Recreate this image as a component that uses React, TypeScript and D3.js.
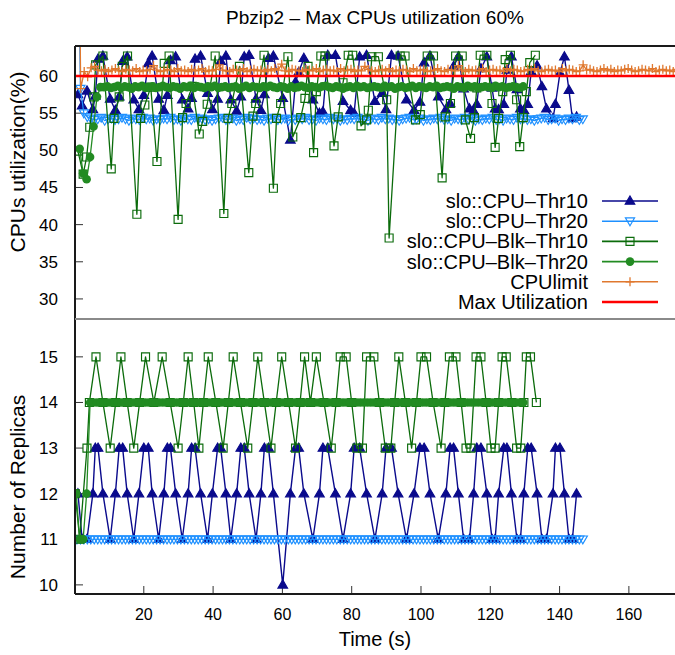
import React from "react";
import * as d3 from "d3";

const chartTitle = "Pbzip2 – Max CPUs utilization 60%";
const xLabel = "Time (s)";
const yTopLabel = "CPUs utilization(%)";
const yBotLabel = "Number of Replicas";
const xTicks = [20, 40, 60, 80, 100, 120, 140, 160];
const cpuTicks = [30, 35, 40, 45, 50, 55, 60];
const repTicks = [10, 11, 12, 13, 14, 15];
const legendNames = [
  "slo::CPU–Thr10",
  "slo::CPU–Thr20",
  "slo::CPU–Blk–Thr10",
  "slo::CPU–Blk–Thr20",
  "CPUlimit",
  "Max Utilization",
];
const maxUtilization = 60;

// slo::CPU-Thr10 : [time, cpu, replicas]
const thr10 = [
  [1.0, 57.5, 12], [2.2, 56.0, 11], [3.6, 58.0, 11], [5.3, 55.5, 12], [6.0, 57.3, 13], [6.8, 62.3, 13],
  [8.2, 62.7, 12], [10.3, 56.9, 11], [11.8, 55.4, 12], [12.9, 57.2, 13], [13.9, 62.0, 13], [15.2, 62.6, 12],
  [17.1, 56.8, 11], [18.6, 55.5, 12], [20.0, 57.4, 13], [21.3, 61.7, 13], [22.4, 62.7, 12], [24.3, 56.9, 11],
  [25.8, 55.4, 12], [26.8, 57.4, 13], [27.7, 62.1, 13], [29.2, 62.6, 12], [31.1, 56.8, 11], [32.8, 55.6, 12],
  [33.8, 57.0, 13], [34.8, 62.3, 13], [36.4, 62.7, 12], [38.4, 57.7, 11], [39.8, 55.5, 12], [41.3, 56.9, 13],
  [42.2, 62.0, 13], [43.7, 62.7, 12], [45.1, 56.8, 11], [46.8, 55.3, 12], [48.0, 57.2, 13], [49.0, 62.6, 13],
  [50.4, 62.8, 12], [52.4, 56.9, 11], [53.8, 55.4, 12], [54.8, 57.5, 13], [56.0, 62.4, 13], [57.4, 62.7, 12],
  [60.1, 57.0, 10], [62.3, 51.4, 12], [63.8, 59.2, 13], [64.7, 60.5, 13], [66.2, 62.4, 12], [68.8, 56.8, 11],
  [70.7, 55.0, 12], [71.7, 55.2, 13], [73.1, 62.8, 13], [75.3, 62.8, 12], [77.5, 56.6, 11], [79.7, 55.4, 12],
  [80.7, 55.0, 13], [82.3, 62.6, 13], [84.3, 62.8, 12], [86.7, 56.6, 11], [88.8, 57.7, 12], [89.9, 55.5, 13],
  [91.5, 62.8, 13], [93.4, 62.7, 12], [95.8, 56.8, 11], [98.0, 55.4, 12], [99.7, 56.5, 13], [100.9, 61.8, 13],
  [102.6, 62.7, 12], [105.0, 57.2, 11], [107.2, 55.5, 12], [108.4, 56.3, 13], [109.4, 61.3, 13], [110.8, 62.6, 12],
  [112.3, 58.3, 11], [114.0, 55.6, 11], [115.2, 55.3, 12], [116.1, 56.2, 13], [117.3, 61.0, 13], [119.0, 62.6, 12],
  [120.5, 58.4, 11], [121.4, 55.6, 11], [122.4, 55.5, 12], [123.9, 56.2, 13], [124.8, 60.8, 13], [126.1, 62.6, 12],
  [127.7, 58.2, 11], [128.7, 55.6, 11], [129.7, 55.4, 12], [130.8, 56.2, 13], [131.8, 60.6, 13], [133.5, 61.4, 12],
  [134.9, 58.6, 11], [136.2, 55.6, 11], [138.1, 54.3, 12], [138.8, 56.2, 13], [140.1, 60.4, 13], [141.4, 62.6, 12],
  [142.7, 58.1, 11], [143.7, 54.3, 11], [144.9, 54.5, 12],
];

// slo::CPU-Thr20 : regular samples
const thr20Start = 0.7;
const thr20Step = 1.0;
const thr20Cpu = [
  90, 58.3, 55.0, 54.5,
  54.3, 54.1, 54.2, 54.4, 54.0, 54.2, 54.3, 54.1, 54.2, 54.4,
  54.2, 54.0, 54.3, 54.2, 54.1, 54.4, 54.2, 54.3, 54.0, 54.2,
  54.1, 54.3, 54.2, 54.4, 54.1, 54.2, 54.0, 54.3, 54.2, 54.1,
  54.4, 54.2, 54.3, 54.1, 54.2, 54.0, 54.2, 54.3, 54.4, 54.1,
  54.2, 54.3, 54.0, 54.2, 54.1, 54.4, 54.2, 54.3, 54.1, 54.2,
  54.0, 54.3, 54.2, 54.4, 54.1, 54.2, 54.3, 54.0, 54.2, 54.1,
  54.3, 54.2, 54.4, 54.1, 54.2, 54.0, 54.3, 54.2, 54.1, 54.4,
  54.2, 54.3, 54.0, 54.2, 54.1, 54.3, 54.2, 54.4, 54.1, 54.2,
  54.0, 54.3, 54.2, 54.1, 54.4, 54.2, 54.3, 54.1, 54.2, 54.0,
  54.2, 54.3, 54.4, 54.1, 54.2, 54.3, 54.0, 54.2, 54.1, 54.3,
  54.2, 54.4, 54.1, 54.2, 54.0, 54.3, 54.2, 54.1, 54.4, 54.2,
  54.3, 54.0, 54.2, 54.1, 54.3, 54.2, 54.4, 54.1, 54.2, 54.0,
  54.3, 54.2, 54.1, 54.4, 54.2, 54.3, 54.1, 54.2, 54.0, 54.2,
  54.3, 54.4, 54.1, 54.2, 54.3, 54.0, 54.2, 54.1, 54.3, 54.2,
  54.4, 54.1, 54.2,
];
const thr20Rep = [
  11, 11, 11, 11, 11, 11, 11, 11, 11, 11, 11, 11, 11, 11, 11, 11, 11, 11, 11, 11, 11,
  11, 11, 11, 11, 11, 11, 11, 11, 11, 11, 11, 11, 11, 11, 11, 11, 11, 11, 11, 11, 11,
  11, 11, 11, 11, 11, 11, 11, 11, 11, 11, 11, 11, 11, 11, 11, 11, 11, 11, 11, 11, 11,
  11, 11, 11, 11, 11, 11, 11, 11, 11, 11, 11, 11, 11, 11, 11, 11, 11, 11, 11, 11, 11,
  11, 11, 11, 11, 11, 11, 11, 11, 11, 11, 11, 11, 11, 11, 11, 11, 11, 11, 11, 11, 11,
  11, 11, 11, 11, 11, 11, 11, 11, 11, 11, 11, 11, 11, 11, 11, 11, 11, 11, 11, 11, 11,
  11, 11, 11, 11, 11, 11, 11, 11, 11, 11, 11, 11, 11, 11, 11, 11, 11, 11, 11, 11, 11,
];

// slo::CPU-Blk-Thr10 : [time, cpu] and [time, replicas]
const blkThr10Cpu = [
  [1.0, 49.9], [2.5, 46.8], [3.5, 49.1], [4.4, 53.1], [5.6, 57.2], [6.1, 61.5], [8.2, 62.7], [10.6, 47.5],
  [11.4, 54.3], [12.9, 57.2], [13.8, 61.3], [15.3, 62.7], [18.0, 41.4], [19.1, 54.3], [20.3, 56.1], [22.0, 58.5],
  [23.8, 48.5], [25.9, 61.7], [27.3, 62.7], [29.9, 40.7], [31.2, 54.4], [32.2, 56.3], [34.0, 58.6], [36.0, 52.2],
  [37.0, 53.9], [38.3, 56.2], [40.6, 62.7], [43.1, 41.5], [44.3, 54.3], [45.4, 56.3], [47.6, 61.3], [50.3, 47.0],
  [51.5, 54.6], [52.3, 56.3], [54.7, 62.8], [57.4, 44.9], [58.3, 54.3], [59.5, 56.3], [61.6, 62.6], [63.0, 51.8],
  [65.3, 54.4], [66.5, 57.0], [67.4, 61.3], [69.0, 49.7], [69.8, 57.9], [71.1, 62.7], [72.3, 62.7], [74.9, 50.6],
  [76.1, 54.5], [77.5, 59.1], [79.0, 62.8], [80.3, 62.8], [82.7, 53.3], [84.3, 54.1], [84.8, 55.4], [85.8, 62.6],
  [87.7, 62.6], [90.1, 56.8], [90.8, 38.2], [94.0, 62.7], [95.4, 62.7], [98.4, 54.1], [99.8, 54.8], [101.8, 62.7],
  [103.6, 62.7], [106.1, 46.3], [107.0, 54.5], [108.5, 56.3], [110.0, 62.7], [111.9, 62.7], [112.8, 54.1], [114.3, 51.6],
  [115.4, 54.4], [116.1, 58.4], [117.1, 62.8], [119.0, 62.8], [120.5, 56.3], [121.4, 50.4], [122.4, 54.3], [123.6, 57.9],
  [124.3, 62.2], [125.8, 62.8], [127.6, 56.8], [128.5, 50.5], [129.5, 54.4], [130.4, 57.9], [131.4, 61.8], [133.0, 62.8],
];
const blkThr10Rep = [
  [0.2, 12], [1.5, 11], [3.6, 13], [4.3, 14], [6.2, 15], [8.2, 14], [10.3, 13], [11.9, 14], [13.4, 15], [15.2, 14],
  [17.1, 13], [18.8, 14], [20.5, 15], [22.9, 14], [25.3, 15], [27.6, 14], [29.9, 13], [31.4, 14], [32.8, 15], [34.4, 14],
  [35.9, 13], [37.2, 14], [38.6, 15], [40.8, 14], [42.9, 13], [44.4, 14], [45.8, 15], [47.9, 14], [50.0, 13], [51.5, 14],
  [52.9, 15], [54.8, 14], [56.7, 13], [58.2, 14], [59.8, 15], [61.8, 14], [63.8, 13], [65.1, 14], [66.4, 15], [68.1, 14],
  [69.8, 15], [72.0, 14], [74.1, 13], [75.5, 14], [76.7, 15], [78.4, 15], [80.0, 14], [81.5, 13], [83.1, 13], [84.3, 15],
  [86.4, 15], [88.0, 14], [89.7, 13], [91.3, 13], [92.4, 14], [93.6, 15], [95.5, 14], [97.3, 13], [98.7, 14], [100.0, 15],
  [101.6, 15], [103.5, 14], [105.8, 13], [106.9, 14], [108.2, 15], [110.1, 15], [111.6, 14], [113.0, 13], [114.4, 13], [115.9, 15],
  [117.3, 15], [118.8, 14], [120.2, 13], [121.4, 13], [122.4, 14], [123.4, 15], [124.6, 15], [126.2, 14], [127.6, 13], [128.8, 13],
  [129.7, 14], [130.4, 15], [131.6, 15], [133.3, 14],
];

// slo::CPU-Blk-Thr20 : regular samples (null = no CPU sample)
const blkThr20Start = 0.5;
const blkThr20Step = 1.0;
const blkThr20Cpu = [
  null, 50.2, 46.9, 46.1, 49.1, 53.2, 57.2, 58.5,
  58.5, 58.6, 58.4, 58.5, 58.7, 58.4, 58.6, 58.5, 58.3, 58.6, 58.5, 58.7,
  58.4, 58.5, 58.6, 58.4, 58.5, 58.7, 58.5, 58.4, 58.6, 58.5, 58.3, 58.6,
  58.5, 58.7, 58.4, 58.6, 58.5, 58.4, 58.6, 58.5, 58.7, 58.4, 58.5, 58.6,
  58.4, 58.5, 58.6, 58.3, 58.5, 58.7, 58.4, 58.6, 58.5, 58.4, 58.6, 58.5,
  58.7, 58.5, 58.4, 58.6, 58.5, 58.3, 58.6, 58.4, 58.5, 58.7, 58.5, 58.4,
  58.6, 58.5, 58.4, 58.6, 58.7, 58.5, 58.4, 58.6, 58.5, 58.3, 58.5, 58.6,
  58.4, 58.7, 58.5, 58.6, 58.4, 58.5, 58.6, 58.5, 58.4, 58.7, 58.5, 58.6,
  58.3, 58.5, 58.6, 58.4, 58.5, 58.7, 58.4, 58.6, 58.5, 58.4, 58.6, 58.5,
  58.7, 58.4, 58.5, 58.6, 58.5, 58.3, 58.6, 58.5, 58.4, 58.7, 58.5, 58.6,
  58.4, 58.5, 58.6, 58.5, 58.4, 58.7, 58.5, 58.6, 58.4, 58.5, 58.6, 58.5,
  58.4, 58.6,
];
const blkThr20Rep = [
  12, 11, 11, 12,
  14, 14, 14, 14, 14, 14, 14, 14, 14, 14, 14, 14, 14, 14, 14, 14, 14, 14, 14, 14, 14,
  14, 14, 14, 14, 14, 14, 14, 14, 14, 14, 14, 14, 14, 14, 14, 14, 14, 14, 14, 14, 14,
  14, 14, 14, 14, 14, 14, 14, 14, 14, 14, 14, 14, 14, 14, 14, 14, 14, 14, 14, 14, 14,
  14, 14, 14, 14, 14, 14, 14, 14, 14, 14, 14, 14, 14, 14, 14, 14, 14, 14, 14, 14, 14,
  14, 14, 14, 14, 14, 14, 14, 14, 14, 14, 14, 14, 14, 14, 14, 14, 14, 14, 14, 14, 14,
  14, 14, 14, 14, 14, 14, 14, 14, 14, 14, 14, 14, 14, 14, 14, 14, 14, 14, 14, 14, 14,
];

// CPUlimit : regular samples
const cpuLimitStart = 0.8;
const cpuLimitStep = 1.0;
const cpuLimit = [
  100, 58.3, 60.6, 59.9, 61.1, 61.3, 60.8,
  60.7, 60.9, 60.6, 60.8, 61.0, 60.7, 60.6, 60.9, 60.8, 60.7, 61.0, 60.6,
  60.8, 60.7, 60.9, 61.4, 60.8, 60.6, 60.7, 60.9, 60.8, 60.6, 61.0, 60.7,
  60.8, 60.6, 60.9, 60.7, 60.8, 61.0, 60.6, 60.8, 60.7, 60.9, 61.5, 60.8,
  60.7, 60.6, 60.9, 60.8, 60.7, 61.0, 60.6, 60.8, 60.9, 60.7, 60.8, 60.6,
  60.9, 60.7, 61.0, 60.8, 61.6, 60.7, 60.6, 60.9, 60.8, 60.7, 60.6, 60.9,
  60.8, 60.7, 61.0, 60.6, 60.8, 60.9, 60.7, 60.8, 60.6, 61.0, 60.7, 60.8,
  60.9, 60.6, 60.8, 60.7, 61.3, 60.9, 60.7, 60.6, 60.8, 60.9, 60.7, 61.0,
  60.6, 60.8, 60.7, 60.9, 60.8, 60.6, 61.0, 60.7, 60.8, 60.9, 60.6, 60.7,
  60.8, 61.0, 60.7, 60.6, 60.9, 60.8, 60.7, 61.4, 60.8, 60.6, 60.9, 60.7,
  60.8, 60.7, 61.0, 60.6, 60.8, 60.9, 60.7, 60.8, 60.6, 61.0, 60.7, 60.9,
  60.8, 60.6, 60.7, 60.9, 60.8, 61.0, 60.7, 60.6, 60.8, 60.9, 60.7, 60.8,
  60.6, 61.0, 60.7, 60.9, 60.8, 60.6, 60.7, 61.5, 60.8, 60.9, 60.7, 60.6,
  60.8, 61.0, 60.7, 60.9, 60.6, 60.8, 60.7, 60.9, 61.0, 60.8, 60.6, 60.7,
  60.9, 60.8, 60.7, 61.0, 60.6, 60.8, 60.9, 60.7, 60.8, 60.6, 60.9, 60.7,
];

const FONT = "'Liberation Sans', Arial, Helvetica, sans-serif";

const MARKERS: Record<string, string> = {
  triUp: "M0,-5L4.8,3.2L-4.8,3.2Z",
  triDown: "M0,4.6L4.6,-3.3L-4.6,-3.3Z",
  square: "M-4,-4H4V4H-4Z",
  plus: "M-4.5,0H4.5M0,-4.5V4.5",
};

type Pt = [number, number];

function regular(start: number, step: number, vals: (number | null)[]): Pt[] {
  const out: Pt[] = [];
  vals.forEach((v, i) => {
    if (v !== null && v !== undefined) out.push([start + i * step, v]);
  });
  return out;
}

function Marker({ kind, color, x, y }: { kind: string; color: string; x: number; y: number }) {
  if (kind === "circle") return <circle cx={x} cy={y} r={4.3} fill={color} stroke="none" />;
  const filled = kind === "triUp";
  return (
    <path
      d={MARKERS[kind]}
      transform={`translate(${x},${y})`}
      fill={filled ? color : "none"}
      stroke={color}
      strokeWidth={kind === "plus" ? 1.3 : 1.15}
    />
  );
}

export default function App() {
  const W = 675;
  const H = 655;
  const left = 75;
  const right = 683;
  const top = 46;
  const mid = 319;
  const bottom = 594;

  const x = d3.scaleLinear().domain([0, 173.6]).range([74.5, 676]);
  const yTop = d3.scaleLinear().domain([27.3, 64.04]).range([mid, top]);
  const yBot = d3.scaleLinear().domain([9.8, 15.83]).range([bottom, mid]);

  const series = [
    {
      color: "#0a0a8c", marker: "triUp", lw: 1.4,
      topPts: thr10.map((d) => [d[0], d[1]] as Pt),
      botPts: thr10.map((d) => [d[0], d[2]] as Pt),
    },
    {
      color: "#1e90ff", marker: "triDown", lw: 1.2,
      topPts: regular(thr20Start, thr20Step, thr20Cpu),
      botPts: regular(thr20Start, thr20Step, thr20Rep),
    },
    {
      color: "#0b6b0b", marker: "square", lw: 1.3,
      topPts: blkThr10Cpu as Pt[],
      botPts: blkThr10Rep as Pt[],
    },
    {
      color: "#228b22", marker: "circle", lw: 1.3,
      topPts: regular(blkThr20Start, blkThr20Step, blkThr20Cpu),
      botPts: regular(blkThr20Start, blkThr20Step, blkThr20Rep),
    },
    {
      color: "#e0782e", marker: "plus", lw: 1.3,
      topPts: regular(cpuLimitStart, cpuLimitStep, cpuLimit),
      botPts: [] as Pt[],
    },
  ];
  const maxColor = "#ff0000";

  const lineTop = d3.line<Pt>().x((d) => x(d[0])).y((d) => yTop(d[1]));
  const lineBot = d3.line<Pt>().x((d) => x(d[0])).y((d) => yBot(d[1]));

  const legendY = (i: number) => 201 + i * 20.2;

  return (
    <svg
      width={W}
      height={H}
      viewBox={`0 0 ${W} ${H}`}
      style={{ position: "absolute", left: 0, top: 0, display: "block", background: "#fff" }}
      fontFamily={FONT}
    >
      <defs>
        <clipPath id="clipTop">
          <rect x={left} y={top} width={right - left} height={mid - top} />
        </clipPath>
        <clipPath id="clipBot">
          <rect x={left} y={mid} width={right - left} height={bottom - mid} />
        </clipPath>
      </defs>
      <rect x={0} y={0} width={W} height={H} fill="#fff" />

      {/* Title */}
      <text x={375} y={24} textAnchor="middle" fontSize={19} fill="#000">{chartTitle}</text>

      {/* ticks */}
      {cpuTicks.map((t) => (
        <g key={"ct" + t}>
          <line x1={left} x2={left + 8} y1={yTop(t)} y2={yTop(t)} stroke="#333" strokeWidth={1} />
          <line x1={right - 8} x2={right} y1={yTop(t)} y2={yTop(t)} stroke="#999" strokeWidth={1} />
          <text x={58} y={yTop(t) + 6} textAnchor="end" fontSize={17}>{t}</text>
        </g>
      ))}
      {repTicks.map((t) => (
        <g key={"rt" + t}>
          <line x1={left} x2={left + 8} y1={yBot(t)} y2={yBot(t)} stroke="#333" strokeWidth={1} />
          <line x1={right - 8} x2={right} y1={yBot(t)} y2={yBot(t)} stroke="#999" strokeWidth={1} />
          <text x={58} y={yBot(t) + 6} textAnchor="end" fontSize={17}>{t}</text>
        </g>
      ))}
      {xTicks.map((t) => (
        <g key={"xt" + t}>
          <line x1={x(t)} x2={x(t)} y1={bottom} y2={bottom - 8} stroke="#333" strokeWidth={1} />
          <text x={x(t)} y={620} textAnchor="middle" fontSize={16}>{t}</text>
        </g>
      ))}

      {/* Axis titles */}
      <text transform={`translate(25,162) rotate(-90)`} textAnchor="middle" fontSize={21}>{yTopLabel}</text>
      <text transform={`translate(25,487) rotate(-90)`} textAnchor="middle" fontSize={21}>{yBotLabel}</text>
      <text x={375} y={646} textAnchor="middle" fontSize={20}>{xLabel}</text>

      {/* Top panel data */}
      <g clipPath="url(#clipTop)">
        {series.map((s, i) => (
          <g key={"ts" + i}>
            <path d={lineTop(s.topPts) || ""} fill="none" stroke={s.color} strokeWidth={s.lw} strokeLinejoin="round" />
            {s.topPts.map((p, j) => (
              <Marker key={j} kind={s.marker} color={s.color} x={x(p[0])} y={yTop(p[1])} />
            ))}
          </g>
        ))}
        <line x1={left} x2={right} y1={yTop(maxUtilization)} y2={yTop(maxUtilization)} stroke={maxColor} strokeWidth={2.6} />
      </g>

      {/* Bottom panel data */}
      <g clipPath="url(#clipBot)">
        {series.map((s, i) => (
          <g key={"bs" + i}>
            {s.botPts.length > 0 && (
              <path d={lineBot(s.botPts) || ""} fill="none" stroke={s.color} strokeWidth={s.lw} strokeLinejoin="round" />
            )}
            {s.botPts.map((p, j) => (
              <Marker key={j} kind={s.marker} color={s.color} x={x(p[0])} y={yBot(p[1])} />
            ))}
          </g>
        ))}
      </g>

      {/* Frame */}
      <line x1={left} x2={left} y1={top} y2={bottom} stroke="#1a1a1a" strokeWidth={2} />
      <line x1={left} x2={right} y1={top} y2={top} stroke="#1a1a1a" strokeWidth={2} />
      <line x1={left} x2={right} y1={bottom} y2={bottom} stroke="#1a1a1a" strokeWidth={2} />
      <line x1={left} x2={right} y1={mid} y2={mid} stroke="#8a8a8a" strokeWidth={2} />

      {/* Legend */}
      {legendNames.map((name, i) => {
        const y = legendY(i);
        const s = series[i];
        const color = s ? s.color : maxColor;
        return (
          <g key={"lg" + i}>
            <text x={588} y={y + 7} textAnchor="end" fontSize={20}>{name}</text>
            <line x1={602} x2={658} y1={y} y2={y} stroke={color} strokeWidth={s ? 1.6 : 2.6} />
            {s && <Marker kind={s.marker} color={color} x={630} y={y} />}
          </g>
        );
      })}
    </svg>
  );
}
